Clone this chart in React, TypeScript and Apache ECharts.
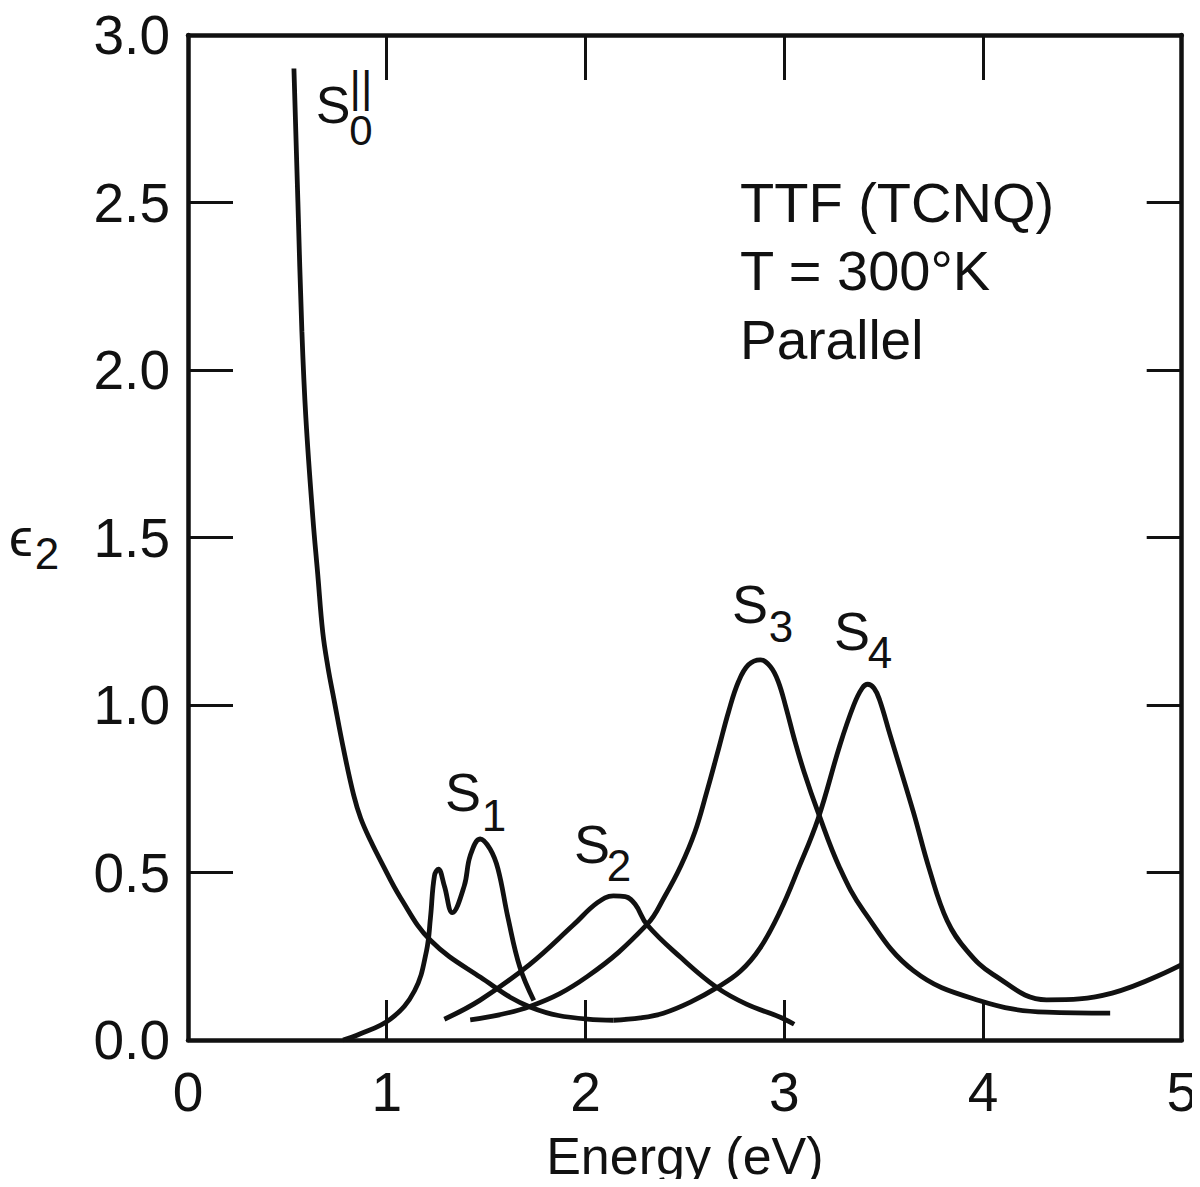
import React, { useEffect, useRef } from "react";
import * as echarts from "echarts";

const FONT = '"Liberation Sans", Arial, Helvetica, sans-serif';

// Energy (eV), epsilon2
const s0Data: [number, number][] = [
  [0.533, 2.9], [0.553, 2.501], [0.573, 2.116], [0.593, 1.858], [0.628, 1.561], [0.653, 1.389],
  [0.678, 1.217], [0.704, 1.113], [0.734, 1.018], [0.784, 0.864], [0.834, 0.73], [0.869, 0.662],
  [0.92, 0.593], [0.97, 0.534], [1.07, 0.424], [1.221, 0.297], [1.472, 0.187], [1.724, 0.098],
  [2.01, 0.062], [2.141, 0.059],
];
const s1Data: [number, number][] = [
  [0.78, 0.0], [0.85, 0.014], [1.02, 0.063], [1.14, 0.147], [1.2, 0.266], [1.22, 0.365],
  [1.24, 0.49], [1.26, 0.51], [1.29, 0.46], [1.33, 0.38], [1.39, 0.46], [1.42, 0.55],
  [1.47, 0.6], [1.52, 0.57], [1.56, 0.51], [1.61, 0.365], [1.67, 0.217], [1.74, 0.118],
];
const s2Data: [number, number][] = [
  [1.29, 0.062], [1.47, 0.119], [1.72, 0.226], [1.94, 0.344], [2.06, 0.41], [2.14, 0.43],
  [2.2, 0.428], [2.25, 0.405], [2.31, 0.344], [2.48, 0.246], [2.66, 0.157], [2.81, 0.107],
  [2.98, 0.068], [3.05, 0.047],
];
const s3Data: [number, number][] = [
  [1.42, 0.06], [1.72, 0.1], [2.01, 0.19], [2.31, 0.345], [2.4, 0.43], [2.48, 0.52],
  [2.55, 0.62], [2.61, 0.74], [2.67, 0.87], [2.72, 0.98], [2.77, 1.07], [2.82, 1.12],
  [2.88, 1.135], [2.93, 1.115], [2.97, 1.07], [3.01, 0.99], [3.05, 0.9], [3.1, 0.8],
  [3.17, 0.68], [3.28, 0.513], [3.4, 0.385], [3.65, 0.207], [3.98, 0.118], [4.32, 0.083],
  [4.64, 0.08],
];
const s4Data: [number, number][] = [
  [2.141, 0.059], [2.276, 0.066], [2.392, 0.08], [2.528, 0.113], [2.663, 0.157], [2.779, 0.205],
  [2.879, 0.275], [2.98, 0.385], [3.07, 0.51], [3.17, 0.66], [3.28, 0.88], [3.35, 1.0],
  [3.392, 1.05], [3.42, 1.062], [3.452, 1.05], [3.48, 1.015], [3.533, 0.91], [3.65, 0.68],
  [3.73, 0.51], [3.82, 0.356], [3.92, 0.266], [4.05, 0.196], [4.32, 0.12], [4.65, 0.14],
  [5.0, 0.225],
];

const xTicks = [0, 1, 2, 3, 4, 5];
const yTicks = [0, 0.5, 1.0, 1.5, 2.0, 2.5, 3.0];
const titleLines = ["TTF (TCNQ)", "T = 300°K", "Parallel"];
const peakLabels = [
  { sub: "1", sx: 463, sy: 792, nx: 494, ny: 815 },
  { sub: "2", sx: 592, sy: 844, nx: 619, ny: 865 },
  { sub: "3", sx: 750, sy: 604, nx: 781, ny: 626 },
  { sub: "4", sx: 852, sy: 631, nx: 880, ny: 652 },
];

function lineSeries(name: string, data: [number, number][]) {
  return {
    name,
    type: "line",
    data,
    smooth: 0.4,
    showSymbol: false,
    symbol: "none",
    lineStyle: { color: "#111", width: 4.8 },
    silent: true,
  };
}

function txt(text: string, x: number, y: number, size: number, align = "center") {
  return {
    type: "text",
    x,
    y,
    style: {
      text,
      fill: "#111",
      fontSize: size,
      fontFamily: FONT,
      lineHeight: size,
      textAlign: align,
      textVerticalAlign: "middle",
    },
  };
}

export default function App() {
  const ref = useRef<HTMLDivElement>(null);
  useEffect(() => {
    if (!ref.current) return;
    const chart = echarts.init(ref.current, null, { renderer: "svg" });
    const axisLine = { show: true, onZero: false, lineStyle: { color: "#111", width: 4.5 } };
    const tick = (len: number) => ({ show: true, inside: true, length: len, lineStyle: { color: "#111", width: 3 } });
    chart.setOption({
      animation: false,
      backgroundColor: "#fff",
      grid: { left: 188, right: 17, top: 35, bottom: 142 },
      xAxis: [
        {
          type: "value",
          position: "bottom",
          min: xTicks[0],
          max: xTicks[xTicks.length - 1],
          interval: 1,
          axisLine,
          axisTick: tick(40),
          splitLine: { show: false },
          axisLabel: { fontSize: 55, fontFamily: FONT, color: "#111", margin: 24 },
          name: "Energy (eV)",
          nameLocation: "middle",
          nameGap: 90,
          nameTextStyle: { fontSize: 52, fontFamily: FONT, color: "#111" },
        },
        {
          type: "value",
          position: "top",
          min: 0,
          max: 5,
          interval: 1,
          axisLine,
          axisTick: tick(45),
          splitLine: { show: false },
          axisLabel: { show: false },
        },
      ],
      yAxis: [
        {
          type: "value",
          position: "left",
          min: yTicks[0],
          max: yTicks[yTicks.length - 1],
          interval: 0.5,
          axisLine,
          axisTick: tick(45),
          splitLine: { show: false },
          axisLabel: {
            fontSize: 55,
            fontFamily: FONT,
            color: "#111",
            margin: 18,
            formatter: (v: number) => v.toFixed(1),
          },
        },
        {
          type: "value",
          position: "right",
          min: 0,
          max: 3,
          interval: 0.5,
          axisLine,
          axisTick: tick(35),
          splitLine: { show: false },
          axisLabel: { show: false },
        },
      ],
      series: [
        lineSeries("S0", s0Data),
        lineSeries("S1", s1Data),
        lineSeries("S2", s2Data),
        lineSeries("S3", s3Data),
        lineSeries("S4", s4Data),
      ],
      graphic: [
        txt(titleLines[0], 740, 202, 56, "left"),
        txt(titleLines[1], 740, 270, 56, "left"),
        txt(titleLines[2], 740, 340, 55, "left"),
        txt("ϵ", 21, 537, 54),
        txt("2", 47, 553, 44),
        txt("S", 333, 105, 52),
        txt("||", 361, 86, 44),
        txt("0", 361, 130, 42),
        ...peakLabels.flatMap((p) => [txt("S", p.sx, p.sy, 54), txt(p.sub, p.nx, p.ny, 44)]),
      ],
    });
    return () => chart.dispose();
  }, []);
  return <div ref={ref} style={{ width: 1200, height: 1187, margin: -8 }} />;
}
